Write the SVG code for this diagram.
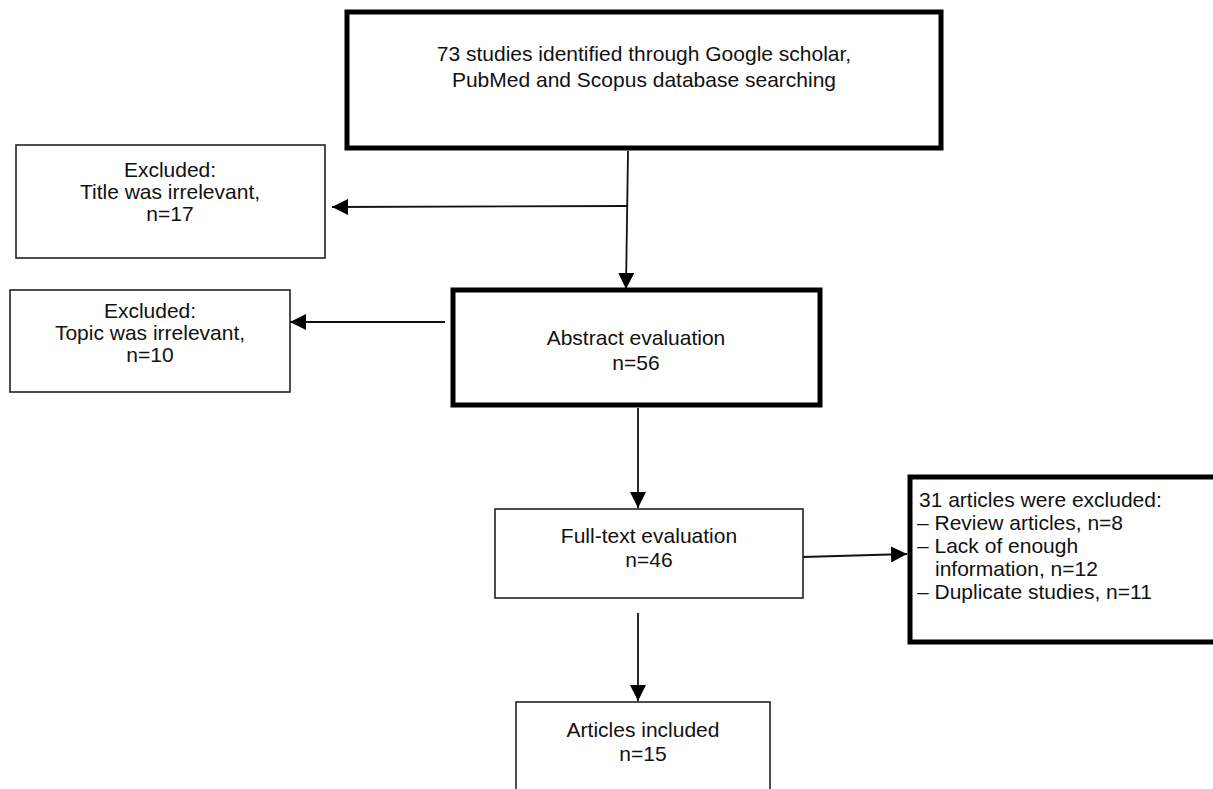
<svg xmlns="http://www.w3.org/2000/svg" width="1213" height="789" viewBox="0 0 1213 789">
<defs>
<style>
.t{font-family:"Liberation Sans",Arial,sans-serif;font-size:21px;fill:#111}
.c{text-anchor:middle}
.thick{fill:#fff;stroke:#000;stroke-width:5}
.thin{fill:#fff;stroke:#222;stroke-width:1.6}
.ln{stroke:#111;stroke-width:1.8;fill:none}
</style>
<marker id="ah" markerUnits="userSpaceOnUse" markerWidth="16" markerHeight="16" viewBox="0 0 16 16" refX="16" refY="8" orient="auto">
<path d="M0,0 L16,8 L0,16 Z" fill="#000"/>
</marker>
</defs>
<rect width="1213" height="789" fill="#fff"/>
<g id="connectors">
<line class="ln" x1="628" y1="151" x2="626" y2="289" marker-end="url(#ah)"/>
<line class="ln" x1="628" y1="206" x2="332" y2="207" marker-end="url(#ah)"/>
<line class="ln" x1="445" y1="322" x2="290" y2="322" marker-end="url(#ah)"/>
<line class="ln" x1="638" y1="408" x2="638" y2="508" marker-end="url(#ah)"/>
<line class="ln" x1="803" y1="557" x2="907" y2="554" marker-end="url(#ah)"/>
<line class="ln" x1="638" y1="613" x2="638" y2="701" marker-end="url(#ah)"/>
</g>
<g id="n_search">
<rect class="thick" x="347" y="12" width="594" height="136"/>
<text class="t c" x="644" y="61">73 studies identified through Google scholar,</text>
<text class="t c" x="644" y="87">PubMed and Scopus database searching</text>
</g>
<g id="n_excl_title">
<rect class="thin" x="16" y="145" width="309" height="113"/>
<text class="t c" x="170" y="177">Excluded:</text>
<text class="t c" x="170" y="199">Title was irrelevant,</text>
<text class="t c" x="170" y="221">n=17</text>
</g>
<g id="n_abstract">
<rect class="thick" x="453" y="290" width="367" height="115"/>
<text class="t c" x="636" y="345">Abstract evaluation</text>
<text class="t c" x="636" y="370">n=56</text>
</g>
<g id="n_excl_topic">
<rect class="thin" x="10" y="290" width="280" height="102"/>
<text class="t c" x="150" y="318">Excluded:</text>
<text class="t c" x="150" y="340">Topic was irrelevant,</text>
<text class="t c" x="150" y="362">n=10</text>
</g>
<g id="n_fulltext">
<rect class="thin" x="495" y="509" width="308" height="89"/>
<text class="t c" x="649" y="543">Full-text evaluation</text>
<text class="t c" x="649" y="567">n=46</text>
</g>
<g id="n_excl31">
<rect class="thick" x="910" y="477" width="310" height="165"/>
<text class="t" x="919" y="507">31 articles were excluded:</text>
<text class="t" x="917" y="530">– Review articles, n=8</text>
<text class="t" x="917" y="553">– Lack of enough</text>
<text class="t" x="935" y="576">information, n=12</text>
<text class="t" x="917" y="599">– Duplicate studies, n=11</text>
</g>
<g id="n_included">
<rect class="thin" x="516" y="702" width="254" height="100"/>
<text class="t c" x="643" y="737">Articles included</text>
<text class="t c" x="643" y="761">n=15</text>
</g>
</svg>
